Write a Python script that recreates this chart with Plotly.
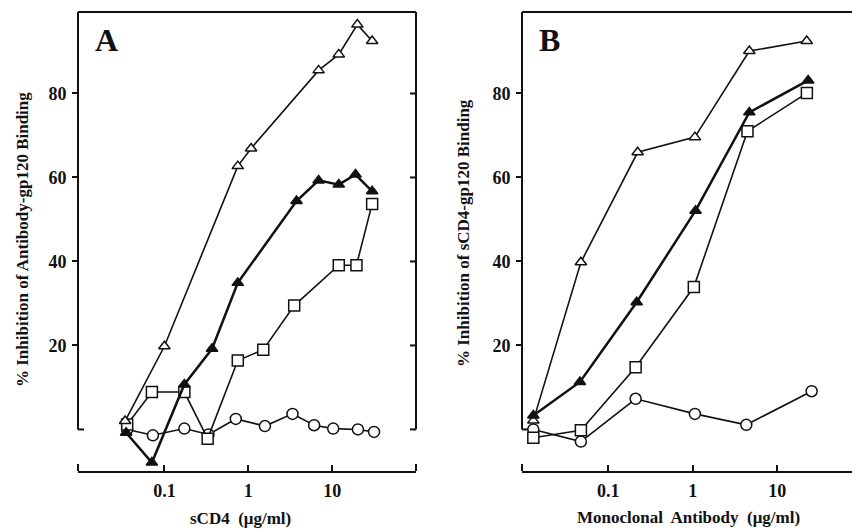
import plotly.graph_objects as go

# ---------------- Data ----------------
# Panel A : sCD4 (ug/ml) vs % inhibition of antibody-gp120 binding
a_open_tri_x = [0.034, 0.1, 0.75, 1.08, 6.9, 12, 20, 30]
a_open_tri_y = [2.0, 19.8, 62.7, 66.9, 85.5, 89.3, 96.4, 92.5]

a_fill_tri_x = [0.035, 0.071, 0.173, 0.37, 0.75, 3.76, 6.9, 12, 19, 30]
a_fill_tri_y = [-0.8, -7.9, 10.7, 19.2, 34.9, 54.4, 59.3, 58.3, 60.7, 56.7]

a_square_x = [0.036, 0.071, 0.173, 0.328, 0.75, 1.51, 3.53, 12, 19.5, 30]
a_square_y = [1.2, 8.9, 8.9, -2.2, 16.4, 19.0, 29.5, 39.1, 39.1, 53.7]

a_circle_x = [0.036, 0.073, 0.173, 0.336, 0.71, 1.58, 3.37, 6.1, 10.3, 20.3, 31.6]
a_circle_y = [0.0, -1.4, 0.2, -1.2, 2.5, 0.8, 3.7, 1.0, 0.2, 0.0, -0.6]

# Panel B : monoclonal antibody (ug/ml) vs % inhibition of sCD4-gp120 binding
b_open_tri_x = [0.013, 0.0475, 0.223, 1.06, 4.67, 22.3]
b_open_tri_y = [2.1, 39.8, 66.0, 69.6, 90.1, 92.5]

b_fill_tri_x = [0.013, 0.0463, 0.217, 1.08, 4.67, 23.2]
b_fill_tri_y = [3.3, 11.3, 30.3, 52.1, 75.5, 83.1]

b_square_x = [0.013, 0.0475, 0.211, 1.03, 4.44, 22.4]
b_square_y = [-2.0, -0.2, 14.8, 33.9, 71.0, 80.1]

b_circle_x = [0.013, 0.0475, 0.211, 1.06, 4.3, 25.5]
b_circle_y = [0.0, -2.9, 7.3, 3.7, 1.1, 9.1]

x_tick_vals = [0.1, 1, 10]
x_tick_text = ["0.1", "1", "10"]
y_tick_vals = [20, 40, 60, 80]
y_tick_text = ["20", "40", "60", "80"]

a_x_title = "sCD4  (μg/ml)"
b_x_title = "Monoclonal  Antibody  (μg/ml)"
a_y_title = "% Inhibition of Antibody-gp120 Binding"
b_y_title = "% Inhibition of sCD4-gp120 Binding"

# ---------------- Figure ----------------
W, H = 852, 529
FONT = "Liberation Serif"
BLACK = "#111111"

fig = go.Figure()

def add_series(x, y, xa, ya, symbol, fill, size, lw):
    fig.add_trace(go.Scatter(
        x=x, y=y, xaxis=xa, yaxis=ya, mode="lines+markers",
        line=dict(color=BLACK, width=lw),
        marker=dict(symbol=symbol, size=size, color=fill,
                    line=dict(color=BLACK, width=1.5)),
        showlegend=False, cliponaxis=False))

# panel A
add_series(a_circle_x, a_circle_y, "x", "y", "circle", "white", 11, 1.6)
add_series(a_square_x, a_square_y, "x", "y", "square", "white", 11, 1.6)
add_series(a_open_tri_x, a_open_tri_y, "x", "y", "triangle-up", "white", 10, 1.6)
add_series(a_fill_tri_x, a_fill_tri_y, "x", "y", "triangle-up", BLACK, 10, 2.5)
# panel B
add_series(b_circle_x, b_circle_y, "x2", "y2", "circle", "white", 11, 1.6)
add_series(b_square_x, b_square_y, "x2", "y2", "square", "white", 11, 1.6)
add_series(b_open_tri_x, b_open_tri_y, "x2", "y2", "triangle-up", "white", 10, 1.6)
add_series(b_fill_tri_x, b_fill_tri_y, "x2", "y2", "triangle-up", BLACK, 10, 2.5)

y_dom = [(H - 471) / H, (H - 12) / H]
Y_RANGE = [-9.9, 99.4]
tickfont = dict(family=FONT, size=18, color=BLACK, weight="bold")

def xaxis(dom, rng, anchor):
    return dict(type="log", domain=dom, range=rng, anchor=anchor,
                showline=True, linewidth=2, linecolor=BLACK,
                ticks="inside", ticklen=6, tickwidth=1.6, tickcolor=BLACK,
                tickvals=x_tick_vals, ticktext=x_tick_text,
                tickfont=tickfont, ticklabelstandoff=2,
                showgrid=False, zeroline=False, automargin=False)

def yaxis(anchor):
    return dict(domain=y_dom, range=Y_RANGE, anchor=anchor,
                showline=False, ticks="outside", ticklen=5, tickwidth=2,
                tickcolor=BLACK, tickvals=y_tick_vals, ticktext=y_tick_text,
                tickfont=tickfont, ticklabelstandoff=2,
                showgrid=False, zeroline=False, automargin=False)

fig.update_layout(
    width=W, height=H,
    margin=dict(l=0, r=0, t=0, b=0),
    paper_bgcolor="white", plot_bgcolor="white",
    xaxis=xaxis([78 / W, 416 / W], [-2.03, 2.0], "y"),
    yaxis=yaxis("x"),
    xaxis2=xaxis([522 / W, 1.0], [-2.02, 1.884], "y2"),
    yaxis2=yaxis("x2"),
)

shapes = []
LW = 2

def vline(xr, yr, xpos, y0, y1):
    shapes.append(dict(type="line", xref=xr, yref=yr, x0=xpos, x1=xpos,
                       y0=y0, y1=y1, line=dict(color=BLACK, width=LW)))

def frame(xr, yr, right_side):
    xd, yd = xr + " domain", yr + " domain"
    vline(xd, yr, 0, 0, Y_RANGE[1])
    shapes.append(dict(type="line", xref=xd, yref=yd, x0=0, x1=1, y0=1, y1=1,
                       line=dict(color=BLACK, width=LW)))
    shapes.append(dict(type="line", xref=xd, yref=yr, xsizemode="pixel",
                       xanchor=0, x0=0, x1=6, y0=0, y1=0,
                       line=dict(color=BLACK, width=LW)))
    if right_side:
        vline(xd, yr, 1, 0, Y_RANGE[1])
        for v in [0] + y_tick_vals:
            shapes.append(dict(type="line", xref=xd, yref=yr, xsizemode="pixel",
                               xanchor=1, x0=-6, x1=0, y0=v, y1=v,
                               line=dict(color=BLACK, width=LW)))
    ends = [0, 1] if right_side else [0]
    for e in ends:
        shapes.append(dict(type="line", xref=xd, yref=yd, ysizemode="pixel",
                           yanchor=0, y0=0, y1=7, x0=e, x1=e,
                           line=dict(color=BLACK, width=LW)))

frame("x", "y", True)
frame("x2", "y2", False)
fig.update_layout(shapes=shapes)

titlefont = dict(family=FONT, size=17, color=BLACK, weight="bold")
ann = []
def px_ann(text, x, y, font, angle=0):
    ann.append(dict(text=text, xref="paper", yref="paper", x=x / W, y=(H - y) / H,
                    xanchor="center", yanchor="middle", showarrow=False,
                    font=font, textangle=angle, borderpad=0))

px_ann(a_x_title, 240, 518, titlefont)
px_ann(b_x_title, 688, 517, titlefont)
px_ann(a_y_title, 22, 240, titlefont, -90)
px_ann(b_y_title, 463, 233, titlefont, -90)
panelfont = dict(family=FONT, size=32, color=BLACK, weight="bold")
px_ann("A", 106, 40, panelfont)
px_ann("B", 549, 40, panelfont)
fig.update_layout(annotations=ann)

fig.write_html("out.html", config={"displayModeBar": False},
               post_script="document.body.style.margin='0';document.body.style.overflow='hidden';")
